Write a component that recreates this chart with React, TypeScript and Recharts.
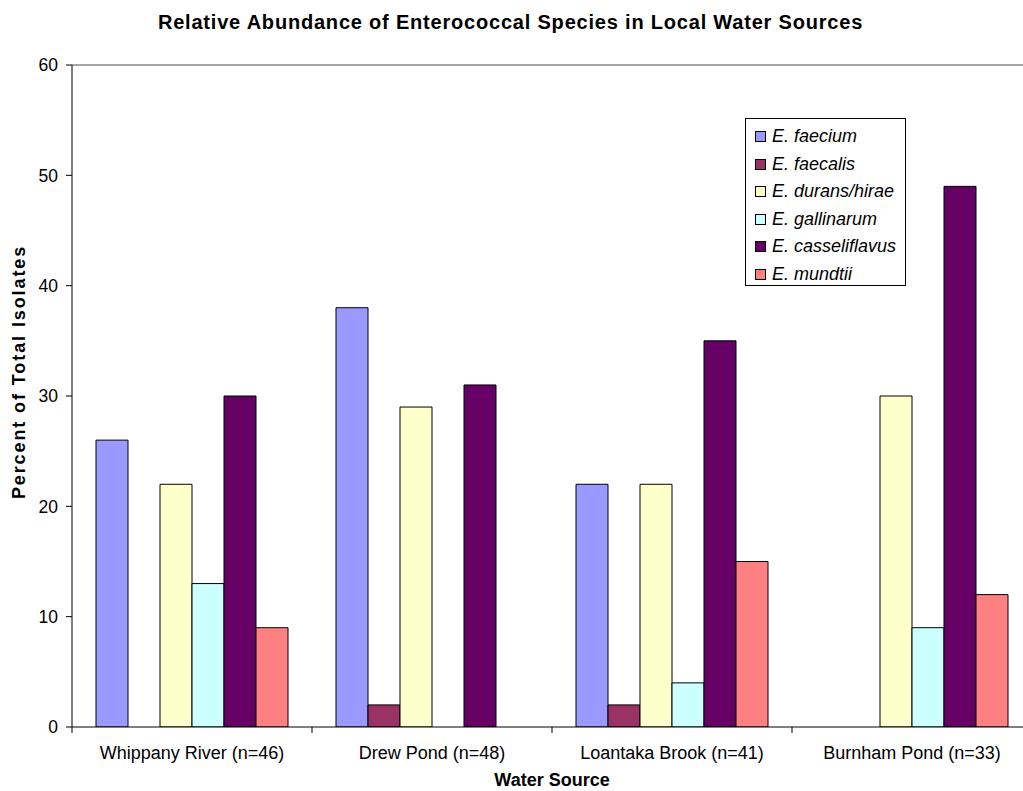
import React from 'react';
import { BarChart, Bar, XAxis, YAxis, ReferenceLine, Legend, Label } from 'recharts';

// Water sources (with isolate counts) along the category axis
const categories = [
  'Whippany River (n=46)',
  'Drew Pond (n=48)',
  'Loantaka Brook (n=41)',
  'Burnham Pond (n=33)',
];

// Percent of total isolates per species, one value per water source
const faecium = [26, 38, 22, 0];
const faecalis = [0, 2, 2, 0];
const durans = [22, 29, 22, 30];
const gallinarum = [13, 0, 4, 9];
const casseliflavus = [30, 31, 35, 49];
const mundtii = [9, 0, 15, 12];

const speciesNames = [
  'E. faecium',
  'E. faecalis',
  'E. durans/hirae',
  'E. gallinarum',
  'E. casseliflavus',
  'E. mundtii',
];
const speciesColors = ['#9999FF', '#993366', '#FFFFCC', '#CCFFFF', '#660066', '#FF8080'];
const speciesValues = [faecium, faecalis, durans, gallinarum, casseliflavus, mundtii];
const speciesKeys = ['s0', 's1', 's2', 's3', 's4', 's5'];

const yTicks = [0, 10, 20, 30, 40, 50, 60];

const data = categories.map((name, i) => {
  const row: Record<string, string | number> = { name };
  speciesKeys.forEach((k, s) => {
    row[k] = speciesValues[s][i];
  });
  return row;
});

const FONT = '"Liberation Sans", Arial, Helvetica, sans-serif';
const TICK_SIZE = 6;
const TICK_MARGIN = 13;

// Category label at the band centre, with the tick mark drawn on the band's left edge
const CategoryTick = (props: any) => {
  const { x, y, payload } = props;
  const half = payload && typeof payload.offset === 'number' && payload.offset > 0 ? payload.offset : 120;
  const axisY = y - TICK_SIZE - TICK_MARGIN;
  return (
    <g>
      <line x1={x - half} x2={x - half} y1={axisY} y2={axisY + TICK_SIZE} stroke="#000" strokeWidth={1} />
      <text x={x} y={y} dy="0.71em" textAnchor="middle" fontFamily={FONT} fontSize={18} fill="#000">
        {payload.value}
      </text>
    </g>
  );
};

// Boxed legend listing the species in series order
const LegendBox = () => (
  <div
    style={{
      border: '1px solid #000',
      background: '#fff',
      width: 161,
      height: 168,
      boxSizing: 'border-box',
      paddingTop: 4,
      paddingLeft: 9,
      fontFamily: FONT,
    }}
  >
    {speciesNames.map((label, i) => (
      <div key={label} style={{ display: 'flex', alignItems: 'center', height: 27.5 }}>
        <span
          style={{
            display: 'inline-block',
            width: 11,
            height: 11,
            boxSizing: 'border-box',
            border: '1px solid #000',
            background: speciesColors[i],
            marginRight: 6,
            flexShrink: 0,
          }}
        />
        <span style={{ fontStyle: 'italic', fontSize: 18, color: '#000', whiteSpace: 'nowrap' }}>{label}</span>
      </div>
    ))}
  </div>
);

export default function App() {
  return (
    <div
      style={{
        position: 'fixed',
        left: 0,
        top: 0,
        width: 1023,
        height: 791,
        overflow: 'hidden',
        background: '#fff',
        fontFamily: FONT,
      }}
    >
      <div
        style={{
          position: 'absolute',
          left: 0,
          top: 11.5,
          width: 1021,
          textAlign: 'center',
          fontWeight: 'bold',
          fontSize: 20,
          lineHeight: '20px',
          letterSpacing: 0.8,
          color: '#000',
          whiteSpace: 'nowrap',
        }}
      >
        Relative Abundance of Enterococcal Species in Local Water Sources
      </div>
      <BarChart
        width={1045}
        height={791}
        data={data}
        margin={{ top: 65, right: 13, bottom: 20, left: 0 }}
        barCategoryGap="10%"
        barGap={0}
      >
        <XAxis
          dataKey="name"
          height={44}
          stroke="#000"
          tickLine={false}
          tickSize={TICK_SIZE}
          tickMargin={TICK_MARGIN}
          tick={<CategoryTick />}
          interval={0}
        >
          <Label
            content={(p: any) => {
              const vb = p.viewBox || { x: 72, y: 727, width: 960 };
              return (
                <text
                  x={vb.x + vb.width / 2}
                  y={vb.y + 59}
                  textAnchor="middle"
                  fontFamily={FONT}
                  fontWeight="bold"
                  fontSize={18}
                  fill="#000"
                >
                  Water Source
                </text>
              );
            }}
          />
        </XAxis>
        <YAxis
          width={72}
          domain={[0, 60]}
          ticks={yTicks}
          interval={0}
          stroke="#000"
          tickSize={TICK_SIZE}
          tickMargin={8}
          tick={{ fill: '#000', fontSize: 17.5, fontFamily: FONT }}
          allowDataOverflow
        >
          <Label
            content={() => (
              <text
                transform="translate(24.5, 372) rotate(-90)"
                textAnchor="middle"
                fontFamily={FONT}
                fontWeight="bold"
                fontSize={18}
                letterSpacing={1.9}
                fill="#000"
              >
                Percent of Total Isolates
              </text>
            )}
          />
        </YAxis>
        <ReferenceLine y={60} stroke="#888" strokeWidth={1.5} ifOverflow="visible" />
        {speciesKeys.map((k, s) => (
          <Bar
            key={k}
            dataKey={k}
            name={speciesNames[s]}
            fill={speciesColors[s]}
            stroke="#000"
            strokeWidth={1}
            isAnimationActive={false}
          />
        ))}
        <Legend
          layout="vertical"
          align="center"
          verticalAlign="middle"
          content={<LegendBox />}
          wrapperStyle={{ position: 'absolute', left: 745, top: 118, width: 161, height: 168, right: 'auto', bottom: 'auto' }}
        />
      </BarChart>
    </div>
  );
}
